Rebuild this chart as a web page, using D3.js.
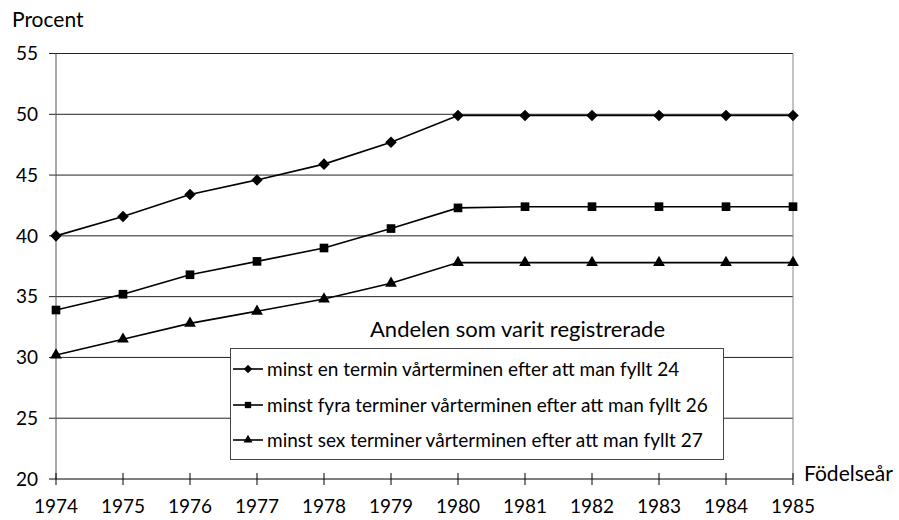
<!DOCTYPE html>
<html>
<head>
<meta charset="utf-8">
<script src="https://cdn.jsdelivr.net/npm/d3@7"></script>
<style>
  body { margin: 0; background: #fff; }
  text { font-family: Lato, "Open Sans", sans-serif; fill: #000; }
</style>
</head>
<body>
<svg id="chart" width="899" height="520"></svg>
<script>
// Data
const years = [1974, 1975, 1976, 1977, 1978, 1979, 1980, 1981, 1982, 1983, 1984, 1985];
const minstEnTermin = [40.0, 41.6, 43.4, 44.6, 45.9, 47.7, 49.9, 49.9, 49.9, 49.9, 49.9, 49.9];
const minstFyraTerminer = [33.9, 35.2, 36.8, 37.9, 39.0, 40.6, 42.3, 42.4, 42.4, 42.4, 42.4, 42.4];
const minstSexTerminer = [30.2, 31.5, 32.8, 33.8, 34.8, 36.1, 37.8, 37.8, 37.8, 37.8, 37.8, 37.8];
const yTicks = [20, 25, 30, 35, 40, 45, 50, 55];
const seriesNames = [
    "minst en termin vårterminen efter att man fyllt 24",
    "minst fyra terminer vårterminen efter att man fyllt 26",
    "minst sex terminer vårterminen efter att man fyllt 27"
];

const series = [
    { name: seriesNames[0], values: minstEnTermin, symbol: d3.symbolDiamond2, size: 85, legendSize: 45 },
    { name: seriesNames[1], values: minstFyraTerminer, symbol: d3.symbolSquare, size: 75, legendSize: 40 },
    { name: seriesNames[2], values: minstSexTerminer, symbol: d3.symbolTriangle, size: 60, legendSize: 35 }
];

const svg = d3.select("#chart");
const plotLeft = 56, plotRight = 793, plotTop = 53.5, plotBottom = 479;

const x = d3.scaleLinear().domain([1974, 1985]).range([plotLeft, plotRight]);
const y = d3.scaleLinear().domain([20, 55]).range([plotBottom, plotTop]);

// Gridlines
svg.append("g")
    .selectAll("line")
    .data(yTicks.filter(d => d > 20))
    .join("line")
    .attr("x1", plotLeft - 7)
    .attr("x2", plotRight)
    .attr("y1", d => y(d))
    .attr("y2", d => y(d))
    .attr("stroke", "#222")
    .attr("stroke-width", 1);

// Left and right borders
svg.append("line")
    .attr("x1", plotLeft).attr("x2", plotLeft)
    .attr("y1", plotTop).attr("y2", plotBottom)
    .attr("stroke", "#555");
svg.append("line")
    .attr("x1", plotRight).attr("x2", plotRight)
    .attr("y1", plotTop).attr("y2", plotBottom)
    .attr("stroke", "#888");

// Y axis labels
svg.append("g")
    .selectAll("text")
    .data(yTicks)
    .join("text")
    .attr("x", 38)
    .attr("y", d => y(d))
    .attr("dy", "0.35em")
    .attr("text-anchor", "end")
    .attr("font-size", 19)
    .text(d => d);

// X axis
svg.append("line")
    .attr("x1", plotLeft - 7).attr("x2", plotRight)
    .attr("y1", plotBottom).attr("y2", plotBottom)
    .attr("stroke", "#000");
svg.append("g")
    .selectAll("line")
    .data(years)
    .join("line")
    .attr("x1", d => x(d)).attr("x2", d => x(d))
    .attr("y1", plotBottom - 6).attr("y2", plotBottom + 6)
    .attr("stroke", "#000");
svg.append("g")
    .selectAll("text")
    .data(years)
    .join("text")
    .attr("x", d => x(d))
    .attr("y", 513)
    .attr("text-anchor", "middle")
    .attr("font-size", 19)
    .text(d => d);

// Axis titles
svg.append("text")
    .attr("x", 12).attr("y", 27)
    .attr("font-size", 21)
    .text("Procent");
svg.append("text")
    .attr("x", 804).attr("y", 481)
    .attr("font-size", 21)
    .text("Födelseår");

// Lines and markers
const line = d3.line()
    .x((d, i) => x(years[i]))
    .y(d => y(d));

series.forEach(s => {
    svg.append("path")
        .datum(s.values)
        .attr("d", line)
        .attr("fill", "none")
        .attr("stroke", "#000")
        .attr("stroke-width", 1.6);

    svg.append("g")
        .selectAll("path")
        .data(s.values)
        .join("path")
        .attr("transform", (d, i) => `translate(${x(years[i])},${y(d)})`)
        .attr("d", d3.symbol(s.symbol, s.size))
        .attr("fill", "#000");
});

// Legend
svg.append("text")
    .attr("x", 370).attr("y", 337)
    .attr("font-size", 22)
    .text("Andelen som varit registrerade");

const legend = svg.append("g");
legend.append("rect")
    .attr("x", 230.5).attr("y", 348.5)
    .attr("width", 493).attr("height", 111)
    .attr("fill", "#fff")
    .attr("stroke", "#444");

const rowY = [369, 405, 440];
series.forEach((s, i) => {
    legend.append("line")
        .attr("x1", 233).attr("x2", 263)
        .attr("y1", rowY[i]).attr("y2", rowY[i])
        .attr("stroke", "#000").attr("stroke-width", 1.6);
    legend.append("path")
        .attr("transform", `translate(248,${rowY[i]})`)
        .attr("d", d3.symbol(s.symbol, s.legendSize))
        .attr("fill", "#000");
    legend.append("text")
        .attr("x", 267).attr("y", rowY[i])
        .attr("dy", "0.35em")
        .attr("font-size", 19)
        .text(s.name);
});
</script>
</body>
</html>
